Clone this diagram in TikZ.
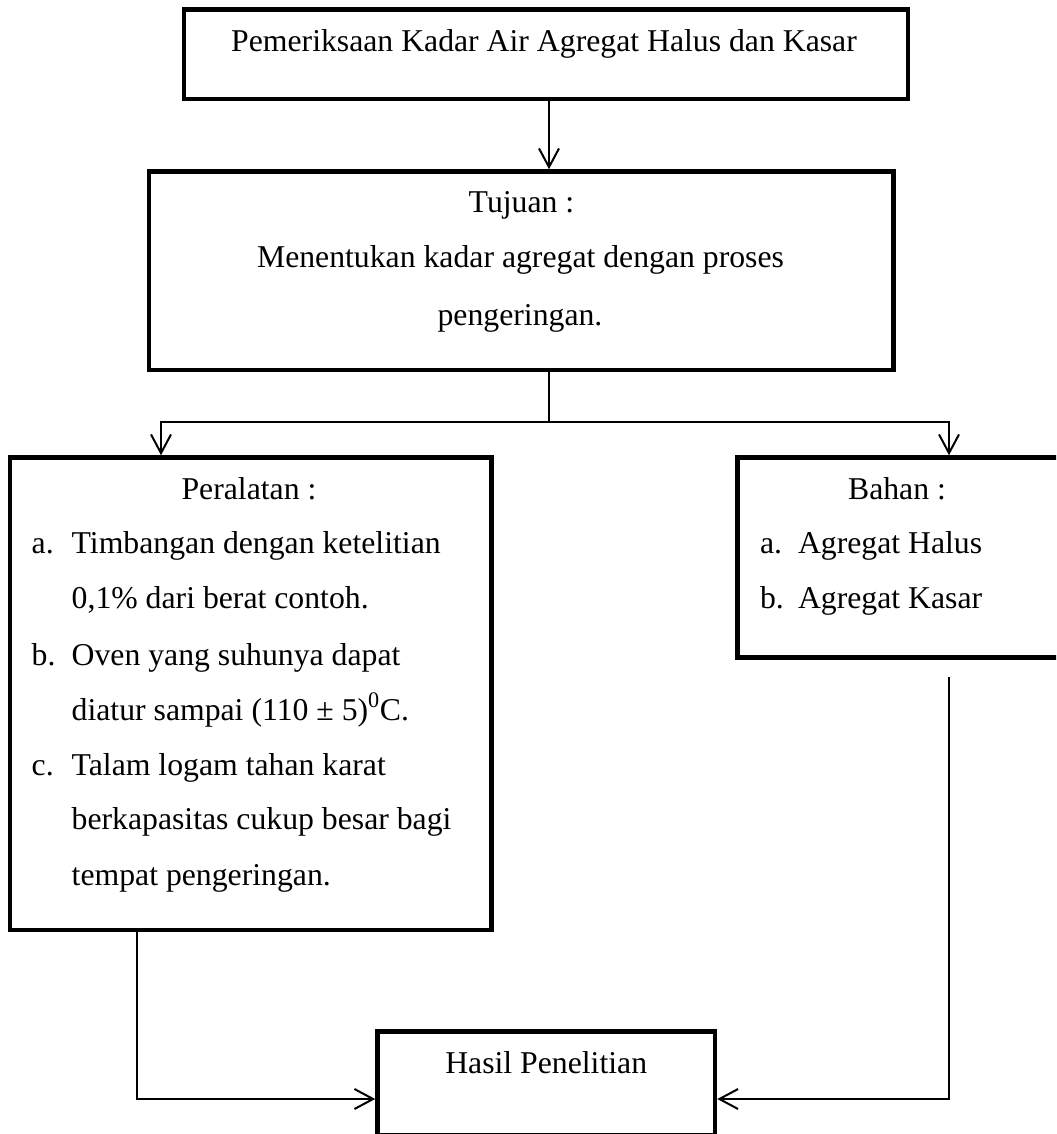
\documentclass[tikz,border=0pt]{standalone}
\usepackage{fontspec}
\setmainfont{Liberation Serif}
\usetikzlibrary{arrows.meta}
\tikzset{
  box/.style={draw, line width=3.4pt, inner sep=0pt, outer sep=1.7pt},
  txt/.style={inner sep=0pt, outer sep=0pt, font=\fontsize{23.8pt}{28pt}\selectfont},
  conn/.style={line width=1.5pt},
  arr/.style={conn, -{Straight Barb[length=14pt,width=15pt]}}
}
\begin{document}
\begin{tikzpicture}[x=0.75pt, y=-0.75pt]
\useasboundingbox (0,0) rectangle (1056,1134);
\clip (0,0) rectangle (1056,1134);
\fill[white] (0,0) rectangle (1056,1134);

% boxes
\node[box, minimum width=543pt, minimum height=67.125pt] (top) at (546,54.25) {};
\node[box, minimum width=558.375pt, minimum height=148.875pt] (tujuan) at (521.25,270.75) {};
\node[box, minimum width=361.275pt, minimum height=354.375pt] (peralatan) at (250.65,693.75) {};
\node[box, minimum width=241.125pt, minimum height=150pt] (bahan) at (898.25,557.5) {};
\node[box, minimum width=253.125pt, minimum height=77.85pt] (hasil) at (546.25,1083.6) {};

% texts
\node[txt, anchor=base] (t0) at (544,52) {Pemeriksaan Kadar Air Agregat Halus dan Kasar};

\node[txt, anchor=base] (t1) at (521.5,213) {Tujuan :};
\node[txt, anchor=base] (t2) at (520.5,267.5) {Menentukan kadar agregat dengan proses};
\node[txt, anchor=base] (t3) at (520,325) {pengeringan.};

\node[txt, anchor=base] (p0) at (249,499) {Peralatan :};
\node[txt, anchor=base west] (pa) at (31.7,553) {a.};
\node[txt, anchor=base west] (pa1) at (71.7,553) {Timbangan dengan ketelitian};
\node[txt, anchor=base west] (pa2) at (71.7,608) {0,1\% dari berat contoh.};
\node[txt, anchor=base west] (pb) at (31.7,665) {b.};
\node[txt, anchor=base west] (pb1) at (71.7,665) {Oven yang suhunya dapat};
\node[txt, anchor=base west] (pb2) at (71.7,720) {diatur sampai (110 ± 5)\textsuperscript{0}C.};
\node[txt, anchor=base west] (pc) at (31.7,775) {c.};
\node[txt, anchor=base west] (pc1) at (71.7,775) {Talam logam tahan karat};
\node[txt, anchor=base west] (pc2) at (71.7,829) {berkapasitas cukup besar bagi};
\node[txt, anchor=base west] (pc3) at (71.7,885) {tempat pengeringan.};

\node[txt, anchor=base] (b0) at (897,499) {Bahan :};
\node[txt, anchor=base west] (ba) at (760,553) {a.};
\node[txt, anchor=base west] (ba1) at (798,553) {Agregat Halus};
\node[txt, anchor=base west] (bb) at (760,608) {b.};
\node[txt, anchor=base west] (bb1) at (798,608) {Agregat Kasar};

\node[txt, anchor=base] (h0) at (546.2,1073) {Hasil Penelitian};

% helper coordinates
\coordinate (bj) at (549,421.7);
\coordinate (bl) at (161,421.7);
\coordinate (brr) at (949,421.7);
\coordinate (pl) at (137.3,1099);
\coordinate (bs) at (949,677);

% connectors
\draw[arr] (top.south -| bj) -- (tujuan.north -| bj);
\draw[conn] (tujuan.south -| bj) -- (bj);
\draw[arr] (bj) -| (peralatan.north -| bl);
\draw[arr] (bj) -| (bahan.north -| brr);
\draw[arr] (peralatan.south -| pl) |- (hasil.west |- pl);
\draw[arr] (bs) |- (hasil.east |- pl);
\end{tikzpicture}
\end{document}
